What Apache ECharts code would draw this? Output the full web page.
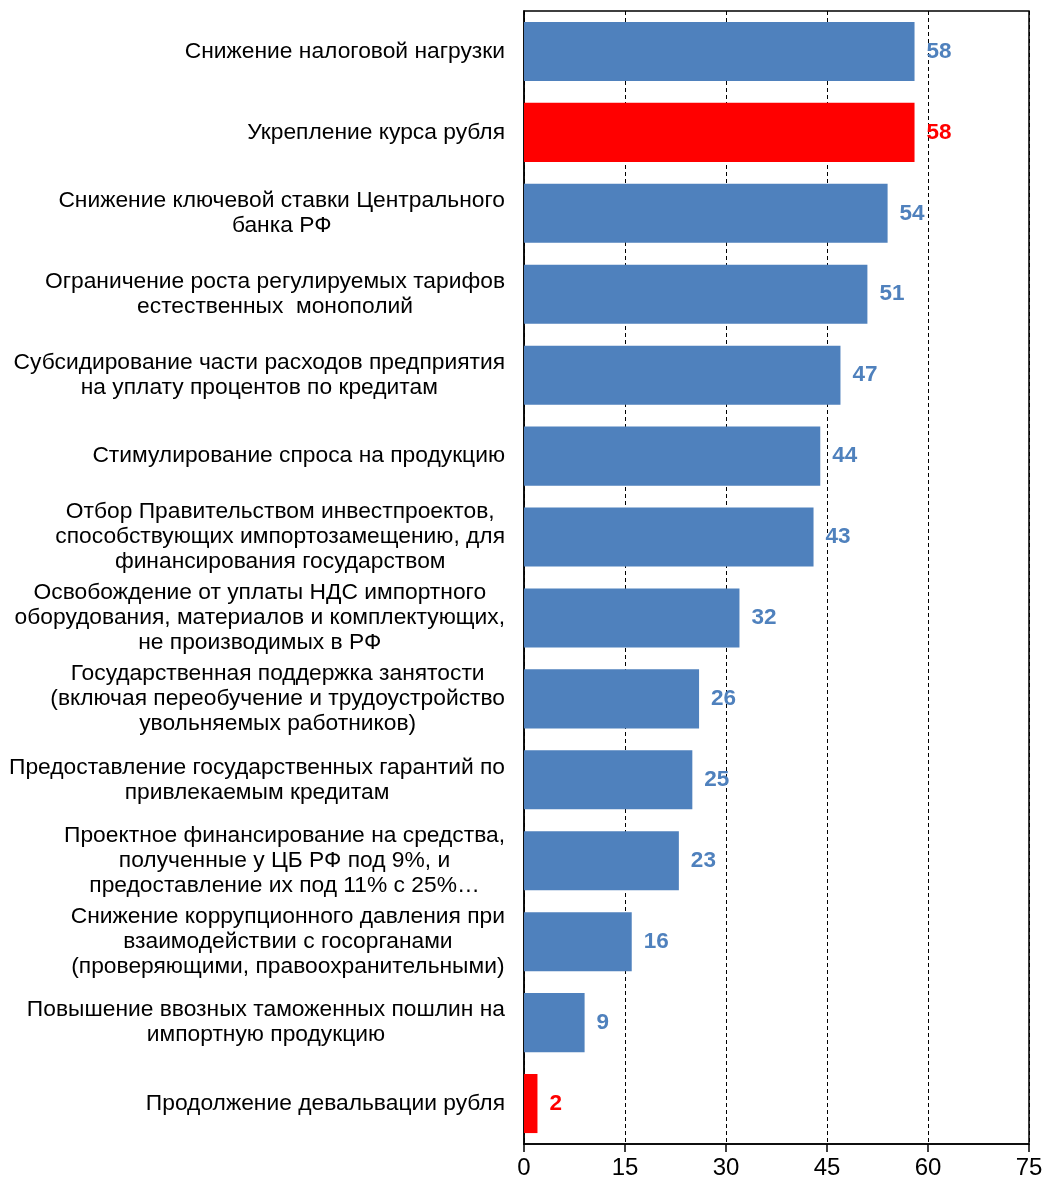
<!DOCTYPE html>
<html>
<head>
<meta charset="utf-8">
<script src="https://cdn.jsdelivr.net/npm/echarts@6/dist/echarts.min.js"></script>
<style>html,body{margin:0;padding:0;background:#fff}#c{width:1046px;height:1184px}</style>
</head>
<body>
<div id="c"></div>
<script>
const categories = [
  "Снижение налоговой нагрузки",
  "Укрепление курса рубля",
  "Снижение ключевой ставки Центрального\nбанка РФ",
  "Ограничение роста регулируемых тарифов\nестественных  монополий",
  "Субсидирование части расходов предприятия\nна уплату процентов по кредитам",
  "Стимулирование спроса на продукцию",
  "Отбор Правительством инвестпроектов,\nспособствующих импортозамещению, для\nфинансирования государством",
  "Освобождение от уплаты НДС импортного\nоборудования, материалов и комплектующих,\nне производимых в РФ",
  "Государственная поддержка занятости\n(включая переобучение и трудоустройство\nувольняемых работников)",
  "Предоставление государственных гарантий по\nпривлекаемым кредитам",
  "Проектное финансирование на средства,\nполученные у ЦБ РФ под 9%, и\nпредоставление их под 11% с 25%…",
  "Снижение коррупционного давления при\nвзаимодействии с госорганами\n(проверяющими, правоохранительными)",
  "Повышение ввозных таможенных пошлин на\nимпортную продукцию",
  "Продолжение девальвации рубля"
];
const values = [58, 58, 54, 51, 47, 44, 43, 32, 26, 25, 23, 16, 9, 2];
const highlighted = [1, 13];
const xTicks = [0, 15, 30, 45, 60, 75];

const BLUE = '#4F81BD', RED = '#FF0000';
const FONT = 'Liberation Sans, Arial, sans-serif';
const chart = echarts.init(document.getElementById('c'), null, {renderer: 'canvas'});
chart.setOption({
  animation: false,
  grid: {left: 524, right: 17, top: 11, bottom: 40, show: true, borderColor: '#000', borderWidth: 1.5, backgroundColor: 'transparent'},
  xAxis: {
    type: 'value', min: xTicks[0], max: xTicks[xTicks.length - 1], interval: 15,
    axisLine: {show: true, lineStyle: {color: '#000', width: 1.5}},
    axisTick: {show: true, length: 8, lineStyle: {color: '#000', width: 1.5}},
    axisLabel: {color: '#000', fontSize: 24, fontFamily: FONT, margin: 12},
    splitLine: {show: true, lineStyle: {color: '#000', type: [4, 3], width: 1}}
  },
  yAxis: {
    type: 'category', data: categories, inverse: true,
    axisLine: {show: true, lineStyle: {color: '#000', width: 1.5}},
    axisTick: {show: false},
    axisLabel: {
      align: 'right', margin: 19, interval: 0,
      formatter: v => v.split('\n').map(l => '{c|' + l + '}').join('\n'),
      rich: {c: {align: 'center', fontSize: 22.8, lineHeight: 25, color: '#000', fontFamily: FONT}}
    }
  },
  series: [{
    type: 'bar', barCategoryGap: '27%',
    data: values.map((v, i) => ({
      value: v,
      itemStyle: {color: highlighted.includes(i) ? RED : BLUE},
      label: {color: highlighted.includes(i) ? RED : BLUE}
    })),
    label: {show: true, position: 'right', distance: 12, fontSize: 22.5, fontWeight: 'bold', fontFamily: FONT}
  }]
});
</script>
</body>
</html>
